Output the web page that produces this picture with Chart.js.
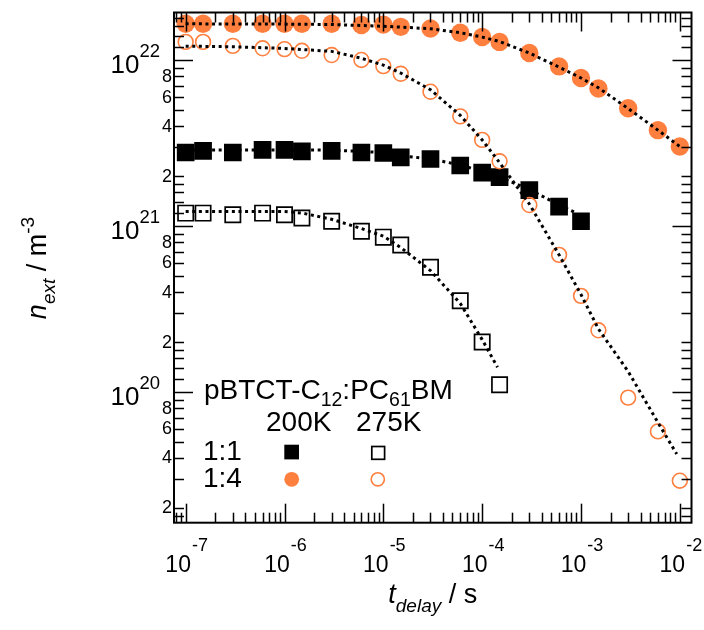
<!DOCTYPE html>
<html><head><meta charset="utf-8">
<script src="https://cdn.jsdelivr.net/npm/chart.js@4/dist/chart.umd.min.js"></script>
<style>html,body{margin:0;padding:0;background:#fff}</style>
</head><body>
<canvas id="c" width="704" height="630"></canvas>
<script>
// ---- data ----
const tDelay = [1e-7,1.5e-7,3e-7,6e-7,1e-6,1.5e-6,3e-6,6e-6,1e-5,1.5e-5,3e-5,6e-5,1e-4,1.5e-4,3e-4,6e-4,1e-3,1.5e-3,3e-3,6e-3,1e-2];
const n200K_14 = [1.66e22,1.66e22,1.66e22,1.66e22,1.66e22,1.66e22,1.66e22,1.63e22,1.64e22,1.59e22,1.555e22,1.466e22,1.38e22,1.29e22,1.105e22,9.18e21,7.82e21,6.76e21,5.14e21,3.79e21,3.02e21];
const n275K_14 = [1.29e22,1.29e22,1.22e22,1.18e22,1.167e22,1.14e22,1.075e22,1.004e22,9.21e21,8.29e21,6.46e21,4.59e21,3.31e21,2.46e21,1.34e21,6.71e20,3.80e20,2.355e20,9.25e19,5.79e19,2.92e19];
const n200K_11 = [2.78e21,2.84e21,2.78e21,2.885e21,2.885e21,2.82e21,2.84e21,2.78e21,2.76e21,2.60e21,2.54e21,2.32e21,2.10e21,1.975e21,1.65e21,1.31e21,1.07e21];
const n275K_11 = [1.198e21,1.198e21,1.17e21,1.198e21,1.17e21,1.12e21,1.07e21,9.31e20,8.58e20,7.69e20,5.65e20,3.55e20,2.00e20,1.105e20];

const fitT_200K_14 = [1e-7,1e-6,3e-6,6e-6,1e-5,1.5e-5,3e-5,6e-5,1e-4,1.5e-4,3e-4,6e-4,1e-3,1.5e-3,3e-3,6e-3,1e-2];
const fitN_200K_14 = [1.658e22,1.651e22,1.642e22,1.620e22,1.602e22,1.585e22,1.548e22,1.466e22,1.379e22,1.297e22,1.105e22,9.09e21,7.82e21,6.82e21,5.12e21,3.79e21,3.02e21];
const fitT_275K_14 = [1e-7,3e-7,1e-6,3e-6,6e-6,1e-5,1.5e-5,3e-5,6e-5,1e-4,1.5e-4,3e-4,6e-4,1e-3,1.5e-3,3e-3,6e-3,9.3e-3];
const fitN_275K_14 = [1.216e22,1.206e22,1.178e22,1.131e22,1.028e22,9.34e21,8.37e21,6.64e21,4.65e21,3.31e21,2.415e21,1.36e21,6.71e20,3.87e20,2.40e20,1.33e20,6.55e19,4.23e19];
const fitT_200K_11 = [1e-7,1e-6,3e-6,6e-6,1e-5,1.5e-5,3e-5,6e-5,1e-4,1.5e-4,3e-4,6e-4,9e-4];
const fitN_200K_11 = [2.88e21,2.88e21,2.87e21,2.825e21,2.77e21,2.66e21,2.54e21,2.34e21,2.135e21,1.975e21,1.663e21,1.342e21,1.198e21];
const fitT_275K_11 = [1e-7,1e-6,1.5e-6,3e-6,6e-6,1e-5,1.5e-5,3e-5,6e-5,1e-4,1.43e-4];
const fitN_275K_11 = [1.224e21,1.224e21,1.20e21,1.10e21,9.67e20,8.70e20,7.43e20,5.39e20,3.42e20,2.07e20,1.41e20];

const xExponents = [-7,-6,-5,-4,-3,-2];
const yExponents = [20,21,22];
const yMinorLabels = [2,4,6,8];
const xMinorMantissas = [2,3,4,5,6,7,8,9];
const yMinorMantissas = [1.2,1.4,1.6,1.8,2,3,4,5,6,7,8,9];
const xRange = [7.62e-8, 1.312e-2];
const yRange = [1.63e19, 1.94e22];

const legendTitle = ['pBTCT-C','12',':PC','61','BM'];
const legendCols = ['200K','275K'];
const legendRows = ['1:1','1:4'];

// ---- styling ----
const ORANGE = '#FF7F3F';
const FONT = '"Liberation Sans", Arial, Helvetica, sans-serif';
const pts = (xs, ys) => ys.map((v, i) => ({x: xs[i], y: v}));

const fitStyle = {showLine: true, pointRadius: 0, borderColor: '#000', borderWidth: 3, borderDash: [3, 3.6], borderCapStyle: 'butt', fill: false, order: 0};

const decor = {
  id: 'decor',
  afterDatasetsDraw(chart) {
    const {ctx, chartArea: a, scales: {x, y}} = chart;
    ctx.save();
    ctx.strokeStyle = '#000';
    ctx.fillStyle = '#000';
    const seg = (x1, y1, x2, y2) => { ctx.beginPath(); ctx.moveTo(x1, y1); ctx.lineTo(x2, y2); ctx.stroke(); };
    ctx.lineWidth = 1.5;
    // x ticks (bottom and top, inward)
    for (let e = -8; e <= -2; e++) [1].concat(xMinorMantissas).forEach(m => {
      const v = m * Math.pow(10, e);
      if (v < x.min || v > x.max) return;
      const px = Math.round(x.getPixelForValue(v)) + 0.5;
      const len = m === 1 ? 19 : 10;
      seg(px, a.bottom, px, a.bottom - len);
      seg(px, a.top, px, a.top + len);
    });
    // y ticks (left and right, inward)
    for (let e = 19; e <= 22; e++) [1].concat(yMinorMantissas).forEach(m => {
      const v = m * Math.pow(10, e);
      if (v < y.min || v > y.max) return;
      const py = Math.round(y.getPixelForValue(v)) + 0.5;
      const len = m === 1 ? 19 : 10;
      seg(a.left, py, a.left + len, py);
      seg(a.right, py, a.right - len, py);
    });
    ctx.lineWidth = 2;
    ctx.strokeRect(a.left, a.top, a.right - a.left, a.bottom - a.top);

    // y major labels 10^n
    ctx.textBaseline = 'alphabetic';
    ctx.textAlign = 'left';
    yExponents.forEach(ex => {
      const py = y.getPixelForValue(Math.pow(10, ex));
      ctx.font = '26px ' + FONT;
      const w10 = ctx.measureText('10').width;
      ctx.font = '18.5px ' + FONT;
      const ws = ctx.measureText(String(ex)).width;
      const x0 = 160 - ws - w10;
      ctx.font = '26px ' + FONT;
      ctx.fillText('10', x0, py + 12.7);
      ctx.font = '18.5px ' + FONT;
      ctx.fillText(String(ex), x0 + w10, py - 3);
    });
    // y minor labels
    ctx.font = '18px ' + FONT;
    ctx.textAlign = 'right';
    ctx.textBaseline = 'middle';
    for (let e = 19; e <= 21; e++) yMinorLabels.forEach(m => {
      const v = m * Math.pow(10, e);
      if (v < y.min || v > y.max) return;
      ctx.fillText(String(m), 172, y.getPixelForValue(v) + 0.5);
    });
    // x labels 10^n
    ctx.textAlign = 'left';
    ctx.textBaseline = 'alphabetic';
    xExponents.forEach(ex => {
      const px = x.getPixelForValue(Math.pow(10, ex));
      ctx.font = '23px ' + FONT;
      const w10 = ctx.measureText('10').width;
      ctx.font = '18px ' + FONT;
      const ws = ctx.measureText(String(ex)).width;
      const x0 = px - (w10 + 1 + ws) / 2 + 1;
      ctx.font = '23px ' + FONT;
      ctx.fillText('10', x0, 571.7);
      ctx.font = '18px ' + FONT;
      ctx.fillText(String(ex), x0 + w10 + 1, 550.5);
    });

    // x axis title: t_delay / s
    {
      const parts = [['t', 'italic 27px ', 0], ['delay', 'italic 19px ', 9], [' / s', '27px ', 0]];
      let tot = 0;
      parts.forEach(p => { ctx.font = p[1] + FONT; tot += ctx.measureText(p[0]).width; });
      let cx = (a.left + a.right) / 2 - tot / 2;
      parts.forEach(p => { ctx.font = p[1] + FONT; ctx.fillText(p[0], cx, 603 + p[2]); cx += ctx.measureText(p[0]).width; });
    }
    // y axis title: n_ext / m^-3 (rotated)
    {
      const parts = [['n', 'italic 27px ', 0], ['ext', 'italic 19px ', 9], [' / m', '27px ', 0], ['-3', '19px ', -12]];
      let tot = 0;
      parts.forEach(p => { ctx.font = p[1] + FONT; tot += ctx.measureText(p[0]).width; });
      ctx.save();
      ctx.translate(46, 268);
      ctx.rotate(-Math.PI / 2);
      let cx = -tot / 2;
      parts.forEach(p => { ctx.font = p[1] + FONT; ctx.fillText(p[0], cx, p[2]); cx += ctx.measureText(p[0]).width; });
      ctx.restore();
    }

    // legend
    {
      let cx = 204;
      const tp = [[legendTitle[0], 28, 0], [legendTitle[1], 19.5, 7], [legendTitle[2], 28, 0], [legendTitle[3], 19.5, 7], [legendTitle[4], 28, 0]];
      tp.forEach(p => { ctx.font = p[1] + 'px ' + FONT; ctx.fillText(p[0], cx, 399 + p[2]); cx += ctx.measureText(p[0]).width; });
      ctx.font = '28px ' + FONT;
      ctx.fillText(legendCols[0], 266, 431);
      ctx.fillText(legendCols[1], 356, 431);
      ctx.fillText(legendRows[0], 203, 459.5);
      ctx.fillText(legendRows[1], 203, 487);
      // markers
      ctx.fillStyle = '#000';
      ctx.fillRect(284.3, 444.7, 14.7, 14.7);
      ctx.lineWidth = 1.7;
      ctx.strokeStyle = '#000';
      ctx.strokeRect(371.8, 446.5, 12.8, 12.8);
      ctx.fillStyle = ORANGE;
      ctx.beginPath(); ctx.arc(291.7, 479.3, 7.4, 0, Math.PI * 2); ctx.fill();
      ctx.strokeStyle = ORANGE;
      ctx.lineWidth = 1.6;
      ctx.beginPath(); ctx.arc(377.8, 479.3, 6.6, 0, Math.PI * 2); ctx.stroke();
    }
    ctx.restore();
  }
};

new Chart(document.getElementById('c'), {
  type: 'scatter',
  data: {
    datasets: [
      Object.assign({data: pts(fitT_200K_14, fitN_200K_14)}, fitStyle),
      Object.assign({data: pts(fitT_275K_14, fitN_275K_14)}, fitStyle),
      Object.assign({data: pts(fitT_200K_11, fitN_200K_11)}, fitStyle),
      Object.assign({data: pts(fitT_275K_11, fitN_275K_11)}, fitStyle),
      {label: '1:4 200K', data: pts(tDelay, n200K_14), pointStyle: 'circle', pointRadius: 9.2, backgroundColor: ORANGE, borderColor: ORANGE, borderWidth: 0, order: 1},
      {label: '1:4 275K', data: pts(tDelay, n275K_14), pointStyle: 'circle', pointRadius: 7.4, backgroundColor: 'rgba(0,0,0,0)', borderColor: ORANGE, pointBorderWidth: 1.6, borderWidth: 1.6, order: 1},
      {label: '1:1 200K', data: pts(tDelay, n200K_11), pointStyle: 'rect', pointRadius: 12.5, backgroundColor: '#000', borderColor: '#000', borderWidth: 0, order: 1},
      {label: '1:1 275K', data: pts(tDelay, n275K_11), pointStyle: 'rect', pointRadius: 10.8, backgroundColor: 'rgba(0,0,0,0)', borderColor: '#000', pointBorderWidth: 1.7, borderWidth: 1.7, order: 1}
    ]
  },
  options: {
    responsive: false,
    devicePixelRatio: 1,
    animation: false,
    layout: {padding: {left: 174, right: 11.3, top: 4.7, bottom: 107.3}},
    plugins: {legend: {display: false}, tooltip: {enabled: false}},
    scales: {
      x: {type: 'logarithmic', min: xRange[0], max: xRange[1], display: false},
      y: {type: 'logarithmic', min: yRange[0], max: yRange[1], display: false}
    }
  },
  plugins: [decor]
});
</script>
</body></html>
